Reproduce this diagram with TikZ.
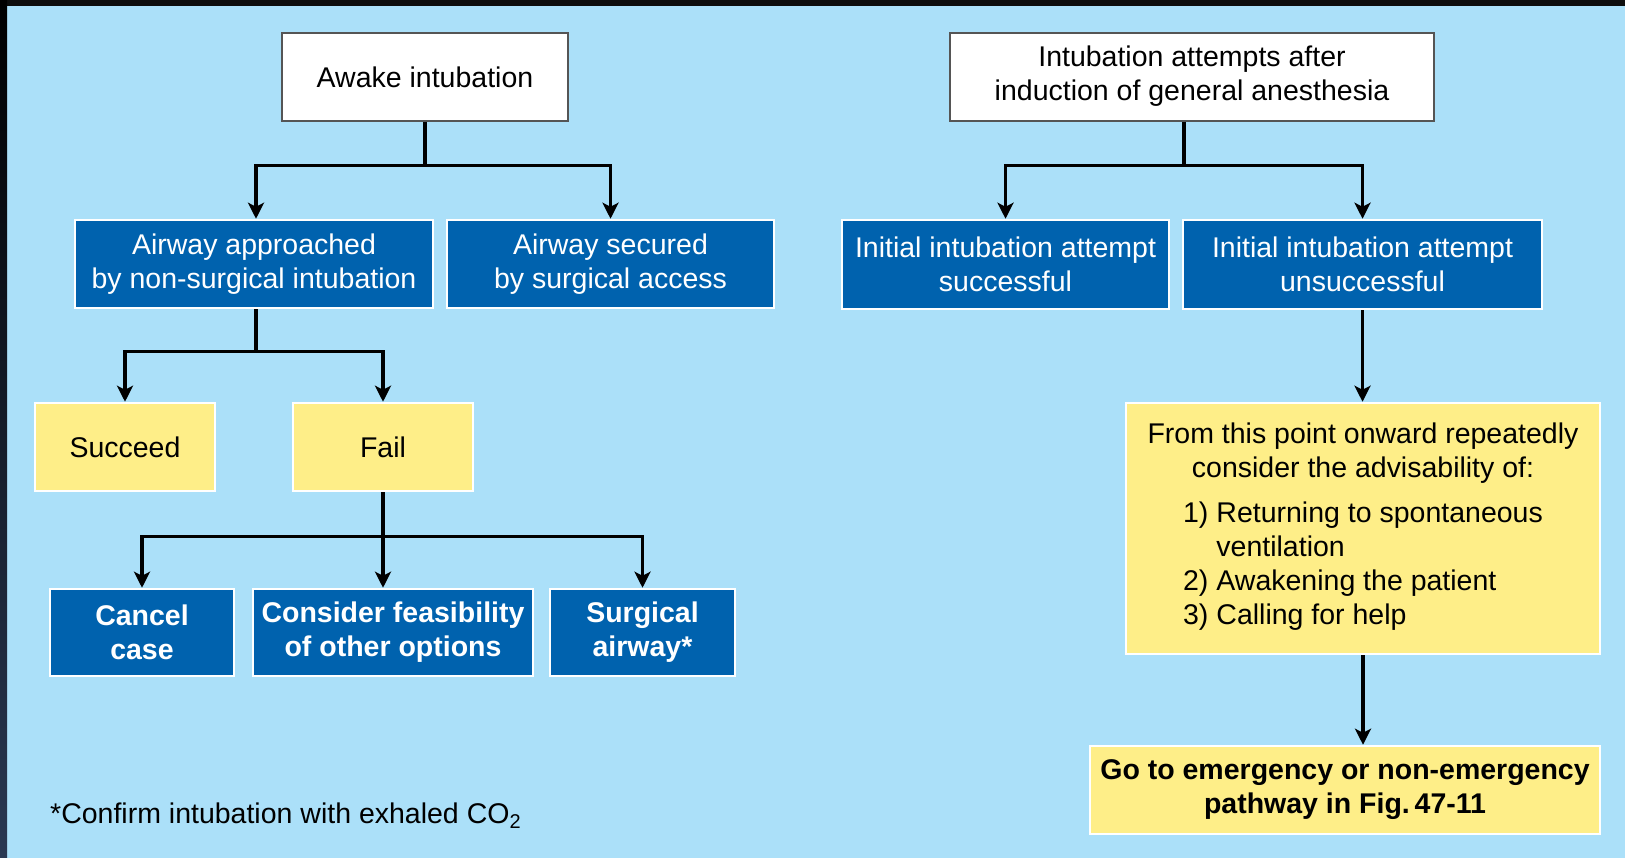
\documentclass[tikz,border=0pt]{standalone}
\usepackage{fontspec}
\setmainfont{Liberation Sans}
\usetikzlibrary{arrows.meta}
\definecolor{bgblue}{HTML}{ABE0F9}
\definecolor{boxblue}{HTML}{0062AE}
\definecolor{boxyellow}{HTML}{FEEE88}
\definecolor{edgegray}{HTML}{555555}
\definecolor{stripdark}{HTML}{2A3852}
\begin{document}
\begin{tikzpicture}[x=1pt,y=-1pt,
  every node/.style={inner sep=0pt, font=\fontsize{28.5}{34}\selectfont, align=center},
  whitebox/.style={draw=edgegray, line width=1.5pt, fill=white, text=black},
  bluebox/.style={draw=white, line width=2.5pt, fill=boxblue, text=white},
  yellowbox/.style={draw=white, line width=2.5pt, fill=boxyellow, text=black},
  boldtext/.style={font=\fontsize{28.5}{34}\selectfont\bfseries},
  sz/.style 2 args={minimum width=#1, minimum height=#2},
  conn/.style={line width=3.2pt, draw=black},
  arr/.style={conn, -{Stealth[length=16pt,width=16pt,inset=4pt]}}
]
% background
\fill[bgblue] (0,0) rectangle (1625,858);
\useasboundingbox (0,0) rectangle (1625,858);
\fill[black!95] (0,0) rectangle (1625,6);
\shade[top color=black, bottom color=stripdark] (0,0) rectangle (7,858);

% left tree
\node[whitebox, sz={286}{88}] (awake) at (425,77) {Awake intubation};
\node[bluebox, sz={358}{88}] (appr) at (254,264) {Airway approached\\by non-surgical intubation};
\node[bluebox, sz={327}{88}] (secured) at (610.5,264) {Airway secured\\by surgical access};
\node[yellowbox, sz={180}{88}] (succeed) at (125,447) {Succeed};
\node[yellowbox, sz={180}{88}] (fail) at (383,447) {Fail};
\node[bluebox, boldtext, sz={184}{87}] (cancel) at (142,632.5) {Cancel\\case};
\node[bluebox, boldtext, sz={280}{87}] (consider) at (393,632.5) {Consider feasibility\\of other options};
\node[bluebox, boldtext, sz={185}{87}] (surgical) at (642.5,632.5) {Surgical\\airway*};
\node[anchor=base west] (foot) at (50,823) {*Confirm intubation with exhaled CO\textsubscript{2}};

% right tree
\node[whitebox, sz={484}{88}] (intub) at (1192,77) {\raisebox{-2pt}{\begin{tabular}{@{}c@{}}Intubation attempts after\\induction of general anesthesia\end{tabular}}};
\node[bluebox, sz={327}{89}] (isucc) at (1005.5,264.5) {Initial intubation attempt\\successful};
\node[bluebox, sz={359}{89}] (iunsucc) at (1362.5,264.5) {Initial intubation attempt\\unsuccessful};
\node[yellowbox, sz={474}{251}] (from) at (1363,528.5) {From this point onward repeatedly\\consider the advisability of:\\[11pt]\begin{tabular}[t]{@{}l@{\hspace{0.28em}}l@{}}1)&Returning to spontaneous\\&ventilation\\2)&Awakening the patient\\3)&Calling for help\end{tabular}};
\node[yellowbox, boldtext, sz={510}{88}] (goto) at (1345,790) {Go to emergency or non-emergency\\pathway in Fig.\,47-11};

% connectors left
\draw[conn] (awake.south) -- ++(0,44) coordinate (j1);
\draw[arr] (j1) -| ([xshift=2pt]appr.north);
\draw[arr] (j1) -| (secured.north);
\draw[conn] ([xshift=2pt]appr.south) -- ++(0,42) coordinate (j2);
\draw[arr] (j2) -| (succeed.north);
\draw[arr] (j2) -| (fail.north);
\draw[conn] (fail.south) -- ++(0,44) coordinate (j3);
\draw[arr] (j3) -| (cancel.north);
\draw[arr] (j3) -| (surgical.north);
\draw[arr] (j3) -- (j3 |- consider.north);

% connectors right
\draw[conn] ([xshift=-8pt]intub.south) -- ++(0,44) coordinate (j4);
\draw[arr] (j4) -| (isucc.north);
\draw[arr] (j4) -| (iunsucc.north);
\draw[arr] (iunsucc.south) -- (iunsucc.south |- from.north);
\draw[arr] (from.south) -- (from.south |- goto.north);
\end{tikzpicture}
\end{document}
